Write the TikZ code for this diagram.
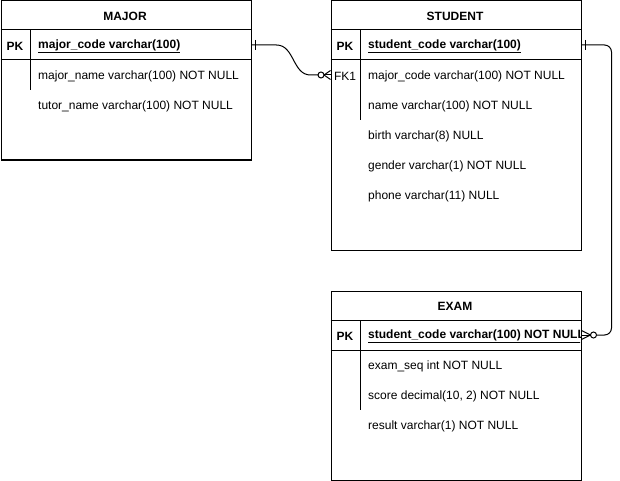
\documentclass[tikz,border=0pt]{standalone}
\usepackage{fontspec}
\setmainfont{Liberation Sans}
\usetikzlibrary{calc}
\begin{document}
\begin{tikzpicture}[x=1pt,y=-1pt,
  tbl/.style={draw, line width=1pt, minimum width=250pt, anchor=north west, inner sep=0pt},
  hdr/.style={font=\fontsize{12}{14}\selectfont\bfseries},
  fld/.style={anchor=west, inner sep=0pt, font=\fontsize{12}{14}\selectfont},
  key/.style={inner sep=0pt, font=\fontsize{12}{14}\selectfont},
  sep/.style={line width=1pt},
  rel/.style={line width=1pt}]
\useasboundingbox (0,0) rectangle (620,481);

% ---------- MAJOR ----------
\node[tbl, minimum height=159pt] (major) at (0.5,0.5) {};
\node[hdr] (majorT) at (125,16) {MAJOR};
\draw[sep] (0.5,30) -- (250.5,30);
\draw[sep] (0.5,60) -- (250.5,60);
\draw[sep] (30,30) -- (30,90);
\node[key,font=\fontsize{12}{14}\selectfont\bfseries] (majorPK) at (15,46) {PK};
\node[fld,font=\fontsize{12}{14}\selectfont\bfseries] (mcode) at (38,46) {\underline{major\_code varchar(100)}};
\node[fld] (mname) at (38,76) {major\_name varchar(100) NOT NULL};
\node[fld] (mtutor) at (38,106) {tutor\_name varchar(100) NOT NULL};

% ---------- STUDENT ----------
\node[tbl, minimum height=249pt] (student) at (330.5,0.5) {};
\node[hdr] (studentT) at (455,16) {STUDENT};
\draw[sep] (330.5,30) -- (580.5,30);
\draw[sep] (330.5,60) -- (580.5,60);
\draw[sep] (360,30) -- (360,120);
\node[key,font=\fontsize{12}{14}\selectfont\bfseries] (studentPK) at (345,46) {PK};
\node[key] (studentFK) at (345,76) {FK1};
\node[fld,font=\fontsize{12}{14}\selectfont\bfseries] (scode) at (368,46) {\underline{student\_code varchar(100)}};
\node[fld] (smajor) at (368,76) {major\_code varchar(100) NOT NULL};
\node[fld] (sname) at (368,106) {name varchar(100) NOT NULL};
\node[fld] (sbirth) at (368,136) {birth varchar(8) NULL};
\node[fld] (sgender) at (368,166) {gender varchar(1) NOT NULL};
\node[fld] (sphone) at (368,196) {phone varchar(11) NULL};

% ---------- EXAM ----------
\node[tbl, minimum height=189pt] (exam) at (330.5,290.5) {};
\node[hdr] (examT) at (455,306) {EXAM};
\draw[sep] (330.5,320) -- (580.5,320);
\draw[sep] (330.5,350) -- (580.5,350);
\draw[sep] (360,320) -- (360,410);
\node[key,font=\fontsize{12}{14}\selectfont\bfseries] (examPK) at (345,336) {PK};
\begin{scope}
\clip (360,321) rectangle (580,349);
\node[fld,font=\fontsize{12}{14}\selectfont\bfseries] (ecode) at (368,336) {\underline{student\_code varchar(100) NOT NULL}};
\end{scope}
\node[fld] (eseq) at (368,366) {exam\_seq int NOT NULL};
\node[fld] (escore) at (368,396) {score decimal(10, 2) NOT NULL};
\node[fld] (eresult) at (368,426) {result varchar(1) NOT NULL};

% ---------- relation MAJOR -> STUDENT ----------
\coordinate (r1s) at ($(major.east |- majorPK)+(0,-1)$);
\coordinate (r1e) at ($(student.west |- studentFK)+(0,-1)$);
\coordinate (r1a) at ($(r1s)+(25,0)$);
\coordinate (r1b) at ($(r1e)+(-20,0)$);
\draw[rel] (r1s) -- (r1a) .. controls ($(r1a)+(18,0)$) and ($(r1b)+(-18,0)$) .. (r1b) -- ($(r1e)+(-12.5,0)$);
\draw[rel] ($(r1s)+(4,-5)$) -- ++(0,10);
\draw[rel,fill=white] ($(r1e)+(-9.5,0)$) circle (3pt);
\draw[rel] ($(r1e)+(-6.5,0)$) -- (r1e);
\draw[rel] ($(r1e)+(-6.5,0)$) -- ($(r1e)+(0,-4.5)$);
\draw[rel] ($(r1e)+(-6.5,0)$) -- ($(r1e)+(0,4.5)$);

% ---------- relation STUDENT -> EXAM ----------
\coordinate (r2s) at ($(student.east |- studentPK)+(0,-1)$);
\coordinate (r2e) at ($(exam.east |- examPK)+(0,-1)$);
\draw[rel,rounded corners=7pt] (r2s) -- ++(30,0) |- ($(r2e)+(15,0)$);
\draw[rel] ($(r2s)+(4,-5)$) -- ++(0,10);
\draw[rel,fill=white] ($(r2e)+(12,0)$) circle (3pt);
\draw[rel] ($(r2e)+(9,0)$) -- (r2e);
\draw[rel] ($(r2e)+(9,0)$) -- ($(r2e)+(0,-4.5)$);
\draw[rel] ($(r2e)+(9,0)$) -- ($(r2e)+(0,4.5)$);
\end{tikzpicture}
\end{document}
